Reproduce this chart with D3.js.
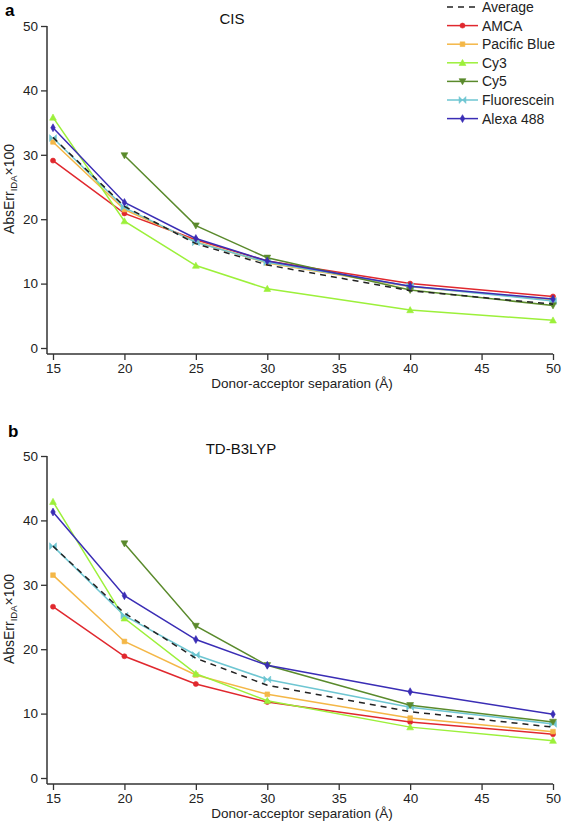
<!DOCTYPE html>
<html><head><meta charset="utf-8">
<script src="https://cdn.jsdelivr.net/npm/d3@7"></script>
<style>body{margin:0;background:#fff}svg{font-family:"Liberation Sans",Arial,sans-serif}</style>
</head><body><svg id="c" width="562" height="829"></svg>
<script>
const separations = [15, 20, 25, 30, 40, 50];
const seriesNames = ["Average", "AMCA", "Pacific Blue", "Cy3", "Cy5", "Fluorescein", "Alexa 488"];
const seriesColors = ["#222222", "#e0282e", "#f4b747", "#9cf03a", "#5a8a2c", "#6ec6d2", "#3a2db5"];
const seriesMarkers = ["none", "circle", "square", "triUp", "triDown", "bowtie", "diamond"];
// Panel a: CIS
const cisAverage   = [32.7, 22.0, 16.2, 12.9, 8.9, 6.8];
const cisAMCA      = [29.1, 20.9, 16.8, 13.5, 10.0, 8.0];
const cisPacific   = [32.0, 21.5, 16.5, 13.2, 9.5, 7.5];
const cisCy3       = [35.8, 19.7, 12.8, 9.2, 5.9, 4.3];
const cisCy5       = [null, 29.9, 19.0, 14.0, 9.0, 6.6];
const cisFluor     = [32.6, 21.8, 16.4, 13.3, 9.6, 7.3];
const cisAlexa     = [34.2, 22.6, 17.0, 13.5, 9.6, 7.6];
// Panel b: TD-B3LYP
const tdAverage    = [36.0, 25.6, 18.6, 14.4, 10.3, 7.9];
const tdAMCA       = [26.6, 18.9, 14.6, 11.8, 8.7, 6.8];
const tdPacific    = [31.5, 21.2, 16.0, 13.0, 9.3, 7.2];
const tdCy3        = [42.9, 24.8, 16.2, 12.0, 7.9, 5.8];
const tdCy5        = [null, 36.4, 23.6, 17.5, 11.3, 8.7];
const tdFluor      = [36.0, 25.2, 19.1, 15.3, 11.0, 8.4];
const tdAlexa      = [41.3, 28.3, 21.5, 17.5, 13.4, 9.9];
const xTicks = [15, 20, 25, 30, 35, 40, 45, 50];
const yTicks = [0, 10, 20, 30, 40, 50];

const svg = d3.select("#c");
const axisColor = "#333";

function markerPath(type, s) {
  switch (type) {
    case "circle": return d3.symbol(d3.symbolCircle, 20)();
    case "square": return d3.symbol(d3.symbolSquare, 22)();
    case "triUp": return `M0,${-s}L${s},${s*0.8}L${-s},${s*0.8}Z`;
    case "triDown": return `M0,${s}L${s},${-s*0.8}L${-s},${-s*0.8}Z`;
    case "bowtie": return `M${-s},${-s}L0,0L${-s},${s}Z M${s},${-s}L0,0L${s},${s}Z`;
    case "diamond": return d3.symbol(d3.symbolDiamond, 18)();
  }
  return "";
}

function panel(opts) {
  const { top, bottom, label, title, titleX, data } = opts;
  const x = d3.scaleLinear().domain([15, 50]).range([53, 553]);
  const y = d3.scaleLinear().domain([0, 50]).range([bottom, top]);
  const g = svg.append("g");
  const yAxis = d3.axisLeft(y).tickValues(yTicks).tickSize(6).tickPadding(3);
  const ya = g.append("g").attr("transform", "translate(47,0)").call(yAxis);
  ya.select(".domain").remove();
  ya.append("line").attr("x1", 0).attr("x2", 0).attr("y1", y(50)).attr("y2", bottom + 6).attr("stroke", axisColor).attr("stroke-width", 1.5);
  const xAxis = d3.axisBottom(x).tickValues(xTicks).tickSize(6).tickPadding(3);
  const xa = g.append("g").attr("transform", `translate(0,${bottom + 6})`).call(xAxis);
  xa.select(".domain").remove();
  xa.append("line").attr("x1", 47).attr("x2", 553).attr("y1", 0).attr("y2", 0).attr("stroke", axisColor).attr("stroke-width", 1.5);
  [ya, xa].forEach(a => {
    a.selectAll(".tick line").attr("stroke", axisColor).attr("stroke-width", 1.3);
    a.selectAll(".tick text").attr("fill", "#222").style("font-size", "13.5px").style("font-family", "Liberation Sans, Arial, sans-serif");
  });
  g.append("text").attr("x", 302).attr("y", bottom + 40).attr("text-anchor", "middle")
    .style("font-size", "13.5px").attr("fill", "#222").text("Donor-acceptor separation (Å)");
  const yl = g.append("text").attr("transform", `translate(14,${(top + bottom) / 2 + 2}) rotate(-90)`)
    .attr("text-anchor", "middle").style("font-size", "14px").attr("fill", "#222");
  yl.append("tspan").text("AbsErr");
  yl.append("tspan").attr("dy", 3).style("font-size", "9.5px").text("IDA");
  yl.append("tspan").attr("dy", -3).text("×100");
  svg.append("text").attr("x", label.x).attr("y", label.y).style("font-size", "17px").style("font-weight", "bold").text(label.t);
  svg.append("text").attr("x", titleX).attr("y", top - 2).attr("text-anchor", "middle").style("font-size", "15px").attr("fill", "#111").text(title);
  const line = d3.line().defined(d => d.v != null).x(d => x(d.x)).y(d => y(d.v));
  const order = [1, 2, 3, 5, 4, 6, 0];
  order.forEach(i => {
    const pts = separations.map((s, j) => ({ x: s, v: data[i][j] }));
    g.append("path").datum(pts).attr("d", line).attr("fill", "none")
      .attr("stroke", seriesColors[i]).attr("stroke-width", 1.5)
      .attr("stroke-dasharray", i === 0 ? "6,5" : null);
    if (seriesMarkers[i] !== "none") {
      g.selectAll(null).data(pts.filter(d => d.v != null)).enter().append("path")
        .attr("transform", d => `translate(${x(d.x)},${y(d.v)})`)
        .attr("d", markerPath(seriesMarkers[i], 3.4))
        .attr("fill", seriesColors[i]).attr("stroke", seriesColors[i]).attr("stroke-width", 0.6);
    }
  });
}

panel({ top: 26, bottom: 348, label: { x: 5, y: 16, t: "a" }, title: "CIS", titleX: 232,
  data: [cisAverage, cisAMCA, cisPacific, cisCy3, cisCy5, cisFluor, cisAlexa] });
panel({ top: 456, bottom: 778, label: { x: 8, y: 437, t: "b" }, title: "TD-B3LYP", titleX: 241,
  data: [tdAverage, tdAMCA, tdPacific, tdCy3, tdCy5, tdFluor, tdAlexa] });

const lg = svg.append("g");
seriesNames.forEach((n, i) => {
  const yy = 7 + i * 18.6;
  lg.append("line").attr("x1", 447).attr("x2", 478).attr("y1", yy).attr("y2", yy)
    .attr("stroke", seriesColors[i]).attr("stroke-width", 1.5)
    .attr("stroke-dasharray", i === 0 ? "6,5" : null);
  if (seriesMarkers[i] !== "none") {
    lg.append("path").attr("transform", `translate(462.5,${yy})`).attr("d", markerPath(seriesMarkers[i], 3.4))
      .attr("fill", seriesColors[i]).attr("stroke", seriesColors[i]).attr("stroke-width", 0.6);
  }
  lg.append("text").attr("x", 482).attr("y", yy + 5).style("font-size", "14px").attr("fill", "#222").text(n);
});
</script></body></html>
